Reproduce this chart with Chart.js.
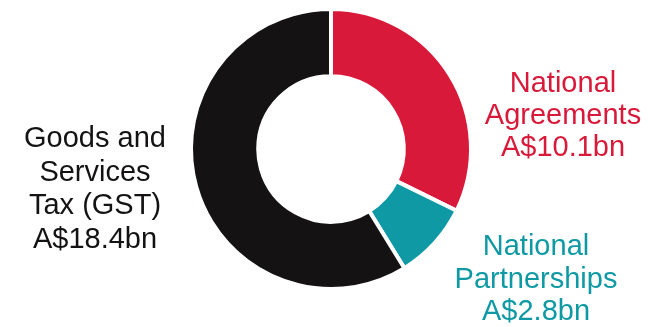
<!DOCTYPE html>
<html>
<head>
<meta charset="utf-8">
<script src="https://cdn.jsdelivr.net/npm/chart.js@4"></script>
<style>
  html, body { margin: 0; padding: 0; background: #ffffff; }
  #wrap { width: 658px; height: 327px; position: relative; }
</style>
</head>
<body>
<div id="wrap"><canvas id="c" width="658" height="327"></canvas></div>
<script>
const categories = ["National Agreements", "National Partnerships", "Goods and Services Tax (GST)"];
const values = [10.1, 2.8, 18.4];
const labelLines = [
  ["National", "Agreements", "A$10.1bn"],
  ["National", "Partnerships", "A$2.8bn"],
  ["Goods and", "Services", "Tax (GST)", "A$18.4bn"]
];
const colors = ["#D9193A", "#0E99A5", "#141213"];
const textColors = ["#D9193A", "#0E99A5", "#141213"];

// label anchor offsets relative to the doughnut centre (dx, first baseline dy, line step)
const labelAnchors = [
  { dx: 232, dy: -57, step: 32 },
  { dx: 205, dy: 106, step: 32.5 },
  { dx: -236, dy: -2, step: 33.7 }
];

const labelPlugin = {
  id: 'sliceLabels',
  afterDraw(chart) {
    const meta = chart.getDatasetMeta(0);
    const arc = meta.data[0];
    const cx = arc.x, cy = arc.y;
    const ctx = chart.ctx;
    ctx.save();
    ctx.font = '29px "Liberation Sans", Arial, sans-serif';
    ctx.textAlign = 'center';
    ctx.textBaseline = 'alphabetic';
    labelLines.forEach((lines, i) => {
      const a = labelAnchors[i];
      ctx.fillStyle = textColors[i];
      lines.forEach((t, j) => {
        ctx.fillText(t, cx + a.dx, cy + a.dy + j * a.step);
      });
    });
    ctx.restore();
  }
};

new Chart(document.getElementById('c'), {
  type: 'doughnut',
  data: {
    labels: categories,
    datasets: [{
      data: values,
      backgroundColor: colors,
      borderColor: '#ffffff',
      borderWidth: 4,
      hoverOffset: 0
    }]
  },
  options: {
    responsive: false,
    animation: false,
    cutout: '52%',
    rotation: 0,
    layout: { padding: { top: 7, bottom: 36, left: 4, right: 0 } },
    plugins: {
      legend: { display: false },
      tooltip: { enabled: false }
    }
  },
  plugins: [labelPlugin]
});
</script>
</body>
</html>
